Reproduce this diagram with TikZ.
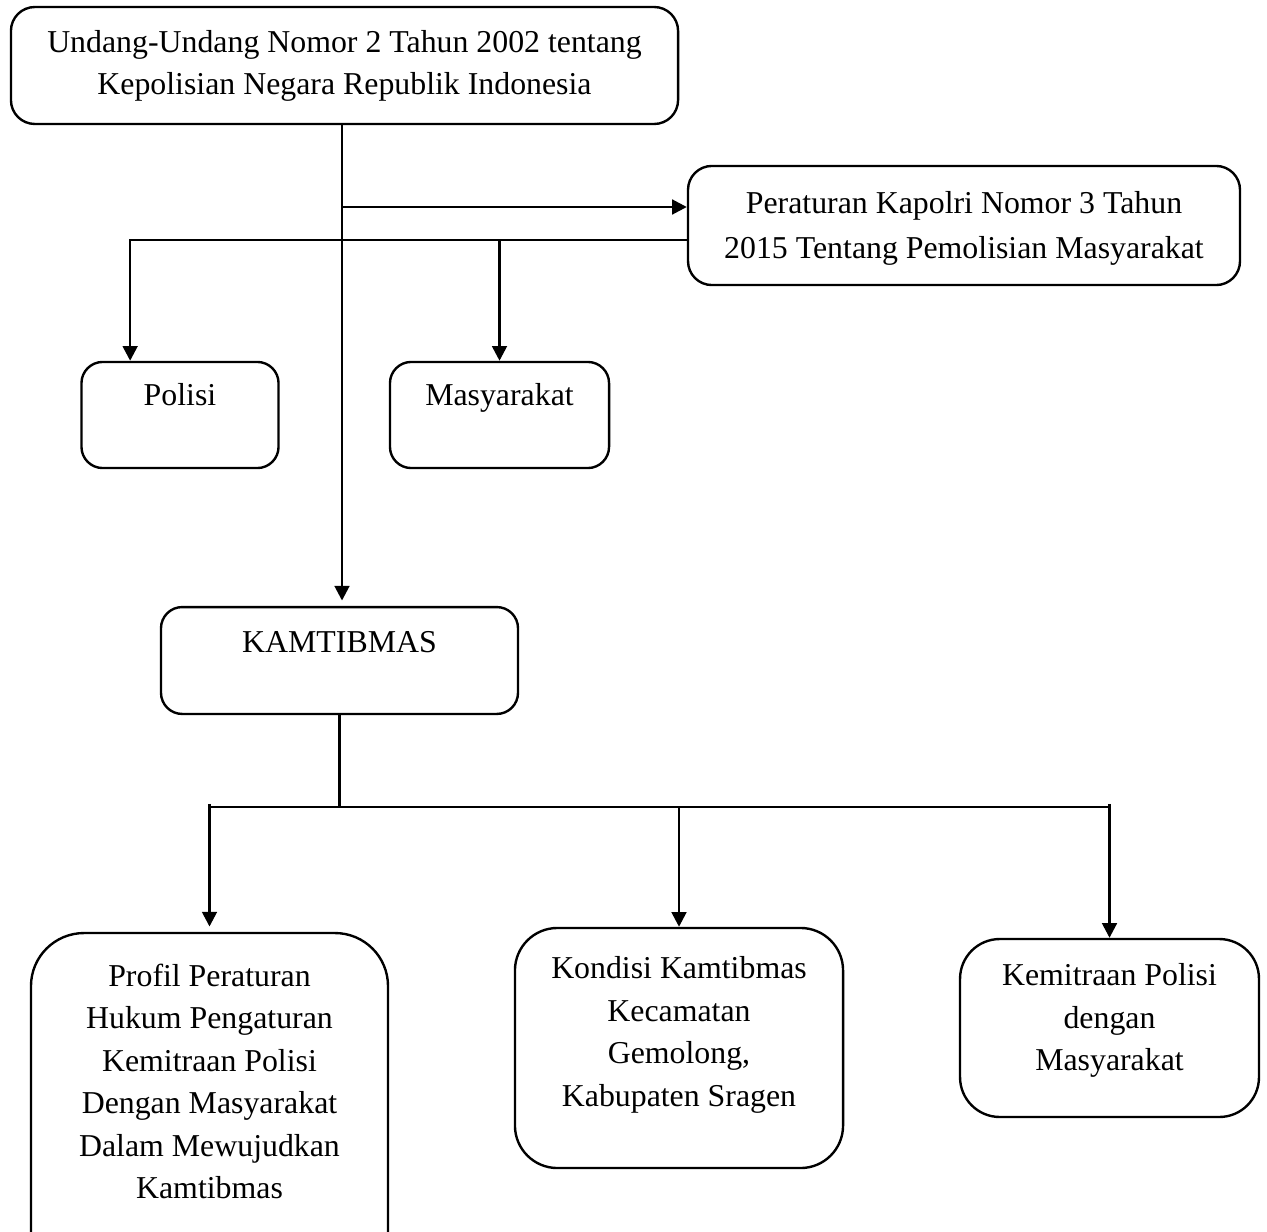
\documentclass[tikz,border=0pt]{standalone}
\usepackage{fontspec}
\setmainfont{Liberation Serif}
\usetikzlibrary{positioning,arrows.meta}
\tikzset{
  box/.style={draw, line width=0.9pt, rounded corners=9pt, inner sep=0pt},
  txt/.style={align=center, inner sep=0pt, font=\fontsize{12}{16}\selectfont},
  link/.style={line width=1pt},
  arr/.style={line width=1pt, -{Triangle[length=5.5pt,width=5.5pt]}}
}
\begin{document}
\begin{tikzpicture}[x=0.377pt, y=-0.377pt]
\useasboundingbox (0,0) rectangle (1267,1231);

% boxes
\node[box, minimum width=251.5pt, minimum height=44.1pt] (uu) at (344.5,65.5) {};
\node[box, minimum width=208.1pt, minimum height=44.9pt] (perkap) at (964,225.5) {};
\node[box, minimum width=74.3pt, minimum height=40pt, rounded corners=8pt] (polisi) at (180,415) {};
\node[box, minimum width=82.6pt, minimum height=40pt, rounded corners=8pt] (masy) at (499.5,415) {};
\node[box, minimum width=134.6pt, minimum height=40.3pt, rounded corners=8pt] (kamtib) at (339.5,660.5) {};
\node[box, minimum width=134.6pt, minimum height=135.7pt, rounded corners=20pt] (profil) at (209.5,1113) {};
\node[box, minimum width=123.7pt, minimum height=90.5pt, rounded corners=16pt] (kondisi) at (679,1048) {};
\node[box, minimum width=112.7pt, minimum height=67.1pt, rounded corners=15pt] (kemitraan) at (1109.5,1028) {};

% texts
\node[txt, below=8.9pt of uu.north] (uu-t) {Undang-Undang Nomor 2 Tahun 2002 tentang\\Kepolisian Negara Republik Indonesia};
\node[txt, below=10pt of perkap.north, font=\fontsize{12}{17}\selectfont] (perkap-t) {Peraturan Kapolri Nomor 3 Tahun\\2015 Tentang Pemolisian Masyarakat};
\node[txt, below=8.5pt of polisi.north] (polisi-t) {Polisi};
\node[txt, below=8.5pt of masy.north] (masy-t) {Masyarakat};
\node[txt, below=9.4pt of kamtib.north] (kamtib-t) {KAMTIBMAS};
\node[txt, below=11.9pt of profil.north] (profil-t) {Profil Peraturan\\Hukum Pengaturan\\Kemitraan Polisi\\Dengan Masyarakat\\Dalam Mewujudkan\\Kamtibmas};
\node[txt, below=11.1pt of kondisi.north] (kondisi-t) {Kondisi Kamtibmas\\Kecamatan\\Gemolong,\\Kabupaten Sragen};
\node[txt, below=9.6pt of kemitraan.north] (kemitraan-t) {Kemitraan Polisi\\dengan\\Masyarakat};

% edges
\coordinate (tap) at (342,207);
\coordinate (bar) at (688,240);
\coordinate (fork) at (0,807);
\draw[arr, shorten >=2pt] (tap |- uu.south) -- (tap |- kamtib.north); % uu to kamtibmas
\draw[arr] (tap) -- (tap -| perkap.west); % to perkap
\draw[arr] (perkap.west |- bar) -| ([xshift=-18.8pt]polisi.north); % perkap to polisi
\draw[arr] (masy.north |- bar) -- (masy.north); % perkap to masyarakat
\draw[link] (kamtib.south) -- (kamtib.south |- fork);
\draw[link] (profil.north |- fork) -- (kemitraan.north |- fork);
\draw[arr, shorten >=2pt] ([yshift=1.2pt]profil.north |- fork) -- (profil.north);
\draw[arr] (kondisi.north |- fork) -- (kondisi.north);
\draw[arr] ([yshift=1.2pt]kemitraan.north |- fork) -- (kemitraan.north);
\end{tikzpicture}
\end{document}
